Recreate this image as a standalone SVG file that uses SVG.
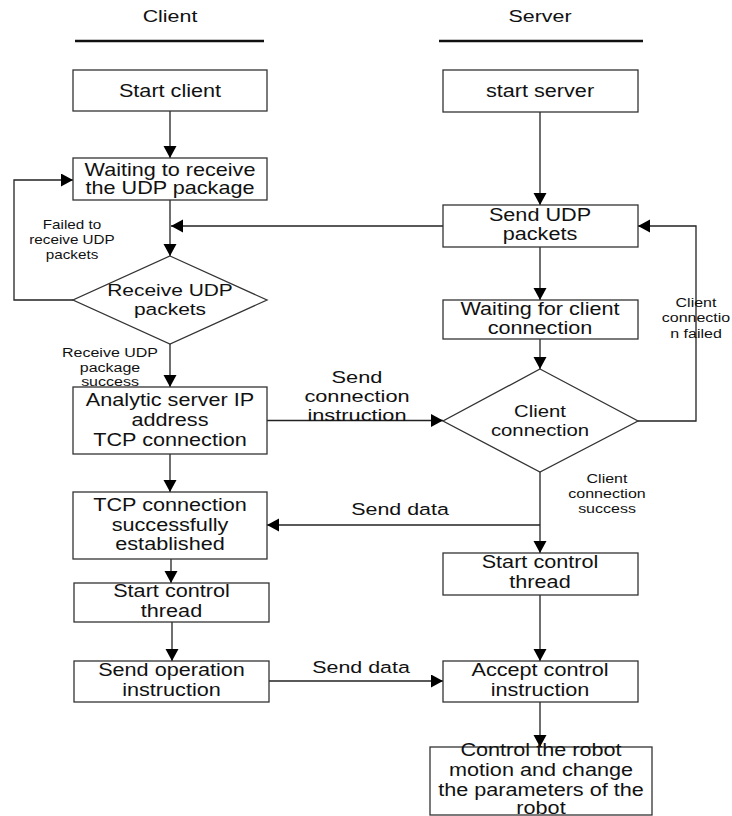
<svg xmlns="http://www.w3.org/2000/svg" width="732" height="816" viewBox="0 0 732 816">
<style>
text{font-family:"Liberation Sans",Arial,sans-serif;fill:#111;text-anchor:middle}
.t{font-size:18.5px}
.d{font-size:16.5px}
.e{font-size:17px}
.s{font-size:12.5px}
.box{fill:#fff;stroke:#333;stroke-width:1.3}
.ln{fill:none;stroke:#222;stroke-width:1.3}
.ttl{stroke:#111;stroke-width:2.6}
</style>
<defs>
<marker id="ah" markerWidth="13" markerHeight="14" refX="12" refY="6.5" orient="auto" markerUnits="userSpaceOnUse"><path d="M0,0 L12,6.5 L0,13 Z" fill="#000"/></marker>
</defs>
<rect width="732" height="816" fill="#fff"/>
<g id="titles">
<text class="e" transform="translate(170 22) scale(1.26 1)">Client</text>
<line class="ttl" x1="75" y1="41" x2="264" y2="41"/>
<text class="e" transform="translate(540 22) scale(1.26 1)">Server</text>
<line class="ttl" x1="439" y1="41" x2="643" y2="41"/>
</g>
<g id="connectors">
<path class="ln" d="M170,111 V158" marker-end="url(#ah)"/>
<path class="ln" d="M170,200 V256" marker-end="url(#ah)"/>
<path class="ln" d="M443,226 H171" marker-end="url(#ah)"/>
<path class="ln" d="M73,300 H14 V180 H73" marker-end="url(#ah)"/>
<path class="ln" d="M170,344 V387" marker-end="url(#ah)"/>
<path class="ln" d="M540,112 V205" marker-end="url(#ah)"/>
<path class="ln" d="M540,247 V300" marker-end="url(#ah)"/>
<path class="ln" d="M540,339 V369" marker-end="url(#ah)"/>
<path class="ln" d="M638,421 H696 V226 H638" marker-end="url(#ah)"/>
<path class="ln" d="M267,420.5 H443" marker-end="url(#ah)"/>
<path class="ln" d="M170,454 V492" marker-end="url(#ah)"/>
<path class="ln" d="M540,472 V553" marker-end="url(#ah)"/>
<path class="ln" d="M540,525 H267" marker-end="url(#ah)"/>
<path class="ln" d="M171,559 V583" marker-end="url(#ah)"/>
<path class="ln" d="M172,622 V661" marker-end="url(#ah)"/>
<path class="ln" d="M269,681 H443" marker-end="url(#ah)"/>
<path class="ln" d="M540,595 V661" marker-end="url(#ah)"/>
<path class="ln" d="M540,702 V747" marker-end="url(#ah)"/>
</g>
<g id="edge-labels">
<text class="s" transform="translate(72 0) scale(1.22 1)"><tspan x="0" y="229.5">Failed to</tspan><tspan x="0" y="244.5">receive UDP</tspan><tspan x="0" y="259.5">packets</tspan></text>
<text class="s" transform="translate(110 0) scale(1.28 1)"><tspan x="0" y="357.5">Receive UDP</tspan><tspan x="0" y="372">package</tspan><tspan x="0" y="386">success</tspan></text>
<text class="s" transform="translate(696 0) scale(1.28 1)"><tspan x="0" y="307">Client</tspan><tspan x="0" y="322.5">connectio</tspan><tspan x="0" y="338">n failed</tspan></text>
<text class="s" transform="translate(607 0) scale(1.28 1)"><tspan x="0" y="483.5">Client</tspan><tspan x="0" y="498.5">connection</tspan><tspan x="0" y="513">success</tspan></text>
<text class="e" transform="translate(357 0) scale(1.28 1)"><tspan x="0" y="383">Send</tspan><tspan x="0" y="402">connection</tspan><tspan x="0" y="421">instruction</tspan></text>
<text class="e" transform="translate(400 515) scale(1.26 1)">Send data</text>
<text class="e" transform="translate(361 673) scale(1.26 1)">Send data</text>
</g>
<g id="start-client">
<rect class="box" x="73" y="70" width="194" height="41"/>
<text class="t" transform="translate(170 97) scale(1.17 1)">Start client</text>
</g>
<g id="wait-udp">
<rect class="box" x="73" y="158" width="194" height="42"/>
<text class="t" style="font-size:18px" transform="translate(170 0) scale(1.2 1)"><tspan x="0" y="176.5">Waiting to receive</tspan><tspan x="0" y="194">the UDP package</tspan></text>
</g>
<g id="receive-udp">
<polygon class="box" points="170,256 267,300 170,344 73,300"/>
<text class="d" transform="translate(170 0) scale(1.27 1)"><tspan x="0" y="296">Receive UDP</tspan><tspan x="0" y="315">packets</tspan></text>
</g>
<g id="analytic">
<rect class="box" x="73" y="387" width="194" height="67"/>
<text class="t" transform="translate(170 0) scale(1.17 1)"><tspan x="0" y="406.5">Analytic server IP</tspan><tspan x="0" y="426.5">address</tspan><tspan x="0" y="446">TCP connection</tspan></text>
</g>
<g id="tcp-established">
<rect class="box" x="73" y="492" width="194" height="67"/>
<text class="t" transform="translate(170 0) scale(1.17 1)"><tspan x="0" y="511">TCP connection</tspan><tspan x="0" y="531">successfully</tspan><tspan x="0" y="550">established</tspan></text>
</g>
<g id="client-control-thread">
<rect class="box" x="74" y="583" width="195" height="39"/>
<text class="t" transform="translate(171.5 0) scale(1.17 1)"><tspan x="0" y="597.5">Start control</tspan><tspan x="0" y="617.5">thread</tspan></text>
</g>
<g id="send-operation">
<rect class="box" x="74" y="661" width="195" height="41"/>
<text class="t" transform="translate(171.5 0) scale(1.17 1)"><tspan x="0" y="676">Send operation</tspan><tspan x="0" y="696.5">instruction</tspan></text>
</g>
<g id="start-server">
<rect class="box" x="443" y="70" width="195" height="42"/>
<text class="t" transform="translate(540 97) scale(1.17 1)">start server</text>
</g>
<g id="send-udp">
<rect class="box" x="443" y="205" width="195" height="42"/>
<text class="t" transform="translate(540 0) scale(1.17 1)"><tspan x="0" y="221.5">Send UDP</tspan><tspan x="0" y="240">packets</tspan></text>
</g>
<g id="wait-client">
<rect class="box" x="443" y="300" width="195" height="39"/>
<text class="t" transform="translate(540 0) scale(1.17 1)"><tspan x="0" y="315">Waiting for client</tspan><tspan x="0" y="334.5">connection</tspan></text>
</g>
<g id="client-connection">
<polygon class="box" points="540,369 638,421 540,472 443,421"/>
<text class="d" transform="translate(540 0) scale(1.23 1)"><tspan x="0" y="417">Client</tspan><tspan x="0" y="436">connection</tspan></text>
</g>
<g id="server-control-thread">
<rect class="box" x="443" y="553" width="195" height="42"/>
<text class="t" transform="translate(540 0) scale(1.17 1)"><tspan x="0" y="568.5">Start control</tspan><tspan x="0" y="588.5">thread</tspan></text>
</g>
<g id="accept-control">
<rect class="box" x="443" y="661" width="195" height="41"/>
<text class="t" transform="translate(540 0) scale(1.17 1)"><tspan x="0" y="676">Accept control</tspan><tspan x="0" y="696.5">instruction</tspan></text>
</g>
<g id="robot-control">
<rect class="box" x="430" y="747" width="222" height="68"/>
<text class="t" transform="translate(541 0) scale(1.17 1)"><tspan x="0" y="756">Control the robot</tspan><tspan x="0" y="776">motion and change</tspan><tspan x="0" y="796">the parameters of the</tspan><tspan x="0" y="814">robot</tspan></text>
</g>
</svg>
